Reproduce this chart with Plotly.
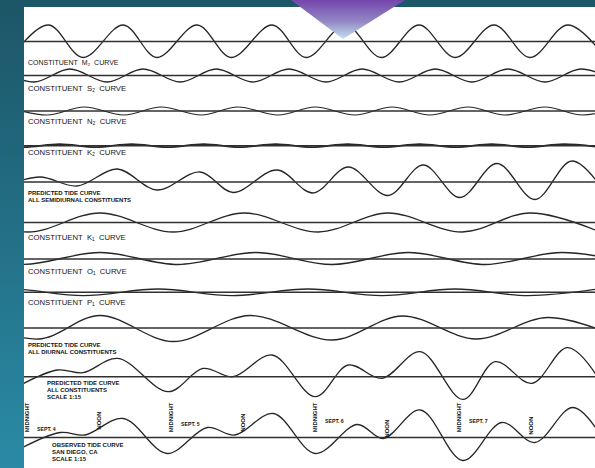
import base64
import plotly.graph_objects as go

# ---------------------------------------------------------------
# Tide curves, San Diego, Sept. 4-7.
# Time is in hours after midnight of Sept. 4; heights are in feet
# above mean level.  Each curve is given by its turning points.
# ---------------------------------------------------------------

M2_T = [-2.6, 3.6, 9.4, 16.1, 21.7, 28.4, 34.1, 40.9, 46.6, 53.1, 59.1, 65.4, 71.4, 77.9, 83.9, 90.2, 96.4]
M2_H = [-1.6, 1.65, -1.6, 1.65, -1.6, 1.65, -1.6, 1.65, -1.6, 1.65, -1.6, 1.65, -1.6, 1.65, -1.6, 1.65, -1.6]

S2_T = [-5.0, 1.2, 7.2, 13.4, 19.4, 25.6, 31.6, 37.7, 43.7, 49.9, 55.9, 62.1, 68.1, 74.2, 80.2, 86.4, 92.4, 98.6]
S2_H = [0.65, -0.65, 0.65, -0.65, 0.65, -0.65, 0.65, -0.65, 0.65, -0.65, 0.65, -0.65, 0.65, -0.65, 0.65, -0.65, 0.65, -0.65]

N2_T = [-3.3, 3.4, 9.6, 16.2, 22.4, 29.1, 35.2, 41.9, 48.1, 54.7, 60.9, 67.2, 73.6, 79.7, 86.4, 92.6, 99.2]
N2_H = [0.4, -0.4, 0.4, -0.4, 0.4, -0.4, 0.4, -0.4, 0.4, -0.4, 0.4, -0.4, 0.4, -0.4, 0.4, -0.4, 0.4]

K2_T = [-6.5, -0.5, 5.5, 11.5, 17.5, 23.5, 29.5, 35.5, 41.5, 47.5, 53.5, 59.5, 65.5, 71.5, 77.5, 83.5, 89.5, 95.5]
K2_H = [0.15, -0.15, 0.15, -0.15, 0.15, -0.15, 0.15, -0.15, 0.15, -0.15, 0.15, -0.15, 0.15, -0.15, 0.15, -0.15, 0.15, -0.15]

SEMI_T = [-3.6, 2.2, 8.4, 15.1, 21.7, 28.9, 34.4, 41.7, 47.7, 53.6, 60.2, 66.1, 72.2, 78.4, 84.7, 90.9, 97.2]
SEMI_H = [-0.4, 0.5, -0.4, 1.3, -0.8, 1.0, -1.05, 1.2, -1.1, 1.5, -1.35, 1.7, -1.55, 1.85, -1.75, 2.1, -1.8]

K1_T = [-11.8, 0.2, 12.2, 24.4, 36.2, 48.6, 60.2, 72.6, 83.9, 95.6]
K1_H = [0.95, -0.95, 0.95, -0.95, 0.95, -0.95, 0.95, -0.95, 0.95, -0.95]

O1_T = [-13.8, -0.8, 12.2, 25.2, 38.2, 50.9, 63.6, 76.4, 89.2, 101.9]
O1_H = [0.65, -0.55, 0.65, -0.55, 0.65, -0.55, 0.65, -0.55, 0.65, -0.55]

P1_T = [-15.0, -2.8, 9.4, 21.9, 34.2, 46.9, 59.2, 71.4, 83.6, 95.2]
P1_H = [-0.33, 0.33, -0.33, 0.33, -0.33, 0.33, -0.33, 0.33, -0.33, 0.33]

DIUR_T = [-11.1, 1.9, 12.2, 24.4, 37.2, 50.9, 62.6, 74.9, 86.9, 98.9]
DIUR_H = [1.2, -1.1, 1.25, -1.35, 1.25, -1.2, 1.2, -1.1, 1.05, -1.0]

ALL_T = [-2.8, 5.1, 9.4, 15.2, 23.6, 29.4, 34.4, 40.9, 48.1, 53.6, 59.2, 65.6, 72.7, 78.1, 84.2, 90.2, 97.2]
ALL_H = [-1.4, 0.67, 0.4, 1.83, -1.5, 0.83, 0.0, 2.17, -2.0, 1.17, -0.17, 2.5, -2.27, 1.5, -0.67, 2.9, -2.0]

OBS_T = [-2.0, 5.6, 9.7, 16.1, 23.4, 30.1, 34.7, 41.1, 48.1, 55.1, 59.4, 65.6, 72.7, 79.2, 84.7, 91.1, 97.6]
OBS_H = [-1.4, 0.5, 0.25, 1.9, -1.6, 1.0, 0.25, 2.4, -1.6, 1.3, -0.1, 2.75, -2.3, 1.5, -0.5, 3.0, -1.8]

# constituent names with their subscripts
CONSTITUENTS_SEMI = ["M₂", "S₂", "N₂", "K₂"]
CONSTITUENTS_DIUR = ["K₁", "O₁", "P₁"]

# time marks along the observed curve
DAYS = ["SEPT. 4", "SEPT. 5", "SEPT. 6", "SEPT. 7"]
MIDNIGHT_HOURS = [0, 24, 48, 72]
NOON_HOURS = [12, 36, 60, 84]

# ---------------------------------------------------------------
# Page layout (vertical axis runs top-down in drawing units)
# ---------------------------------------------------------------
W, H = 595, 468
PANEL_LEFT, PANEL_TOP = 24, 7
X_RANGE = [-0.45, 94.72]
UNITS_PER_FT = 10.0

ROWS = [
    # curve times, heights, mean-level position, line width
    (M2_T, M2_H, 41.5, 1.3),
    (S2_T, S2_H, 75.5, 1.3),
    (N2_T, N2_H, 111.0, 1.2),
    (K2_T, K2_H, 145.7, 1.8),
    (SEMI_T, SEMI_H, 182.0, 1.3),
    (K1_T, K1_H, 222.5, 1.3),
    (O1_T, O1_H, 259.0, 1.3),
    (P1_T, P1_H, 292.3, 1.3),
    (DIUR_T, DIUR_H, 328.0, 1.3),
    (ALL_T, ALL_H, 376.7, 1.3),
    (OBS_T, OBS_H, 437.5, 1.3),
]

INK = "#262626"
fig = go.Figure()

for times, heights, level, lw in ROWS:
    # mean-level line
    fig.add_shape(type="line", xref="paper", yref="y", x0=0, x1=1, y0=level, y1=level,
                  line=dict(color="#303030", width=1.5), layer="above")
    fig.add_trace(go.Scatter(
        x=times, y=[level - h * UNITS_PER_FT for h in heights],
        mode="lines", line=dict(color=INK, width=lw, shape="spline", smoothing=1.0),
        hoverinfo="skip", showlegend=False))

# ---- labels ----
FONT = "Liberation Sans, Arial, sans-serif"
annotations = []


def label(x, y, text, size, bold=False, angle=0, anchor="left"):
    annotations.append(dict(
        x=x, y=y, xref="x", yref="y", text=f"<b>{text}</b>" if bold else text,
        showarrow=False, xanchor=anchor, yanchor="middle", textangle=angle,
        font=dict(family=FONT, size=size, color="#141414")))


NB = "\u00a0"
semi_rows = [(62.0, 7), (88.8, 7.7), (121.0, 7.7), (152.5, 7.7)]
for name, (y, size) in zip(CONSTITUENTS_SEMI, semi_rows):
    label(-0.2, y, f"CONSTITUENT{NB}{NB}{name}{NB}{NB}CURVE", size)
for name, y in zip(CONSTITUENTS_DIUR, [237.8, 271.0, 302.0]):
    label(-0.2, y, f"CONSTITUENT{NB}{NB}{name}{NB}{NB}CURVE", 7.7)

label(-0.1, 193.2, "PREDICTED TIDE CURVE", 6, bold=True)
label(-0.1, 199.8, "ALL SEMIDIURNAL CONSTITUENTS", 6, bold=True)
label(-0.1, 344.7, "PREDICTED TIDE CURVE", 6, bold=True)
label(-0.1, 352.0, "ALL DIURNAL CONSTITUENTS", 6, bold=True)
label(3.0, 383.0, "PREDICTED TIDE CURVE", 6, bold=True)
label(3.0, 390.0, "ALL CONSTITUENTS", 6, bold=True)
label(3.0, 397.0, "SCALE 1:15", 6, bold=True)
label(3.9, 445.0, "OBSERVED TIDE CURVE", 6, bold=True)
label(3.9, 451.7, "SAN DIEGO, CA", 6, bold=True)
label(3.9, 458.5, "SCALE 1:15", 6, bold=True)

day_y = [429.0, 424.0, 421.0, 421.0]
noon_y = [421.0, 423.0, 429.0, 426.0]
for day, mid, noon, dy, ny in zip(DAYS, MIDNIGHT_HOURS, NOON_HOURS, day_y, noon_y):
    label(mid, 417.5, "MIDNIGHT", 6, bold=True, angle=-90, anchor="center")
    label(noon, ny, "NOON", 6, bold=True, angle=-90, anchor="center")
    label(mid + 1.4, dy, day, 5.2, bold=True)

# ---- backdrop: teal page, white sheet and the purple pointer ----
bg_svg = (
    f'<svg xmlns="http://www.w3.org/2000/svg" width="{W}" height="{H}" viewBox="0 0 {W} {H}">'
    '<defs><linearGradient id="g" x1="0" y1="0" x2="0" y2="1">'
    '<stop offset="0" stop-color="#1c5667"/><stop offset="1" stop-color="#2a8aa6"/>'
    '</linearGradient></defs>'
    f'<rect width="{W}" height="{H}" fill="url(#g)"/>'
    f'<rect x="{PANEL_LEFT}" y="{PANEL_TOP}" width="{W - PANEL_LEFT}" height="{H - PANEL_TOP}" fill="#ffffff"/>'
    '</svg>'
)
tri_svg = (
    f'<svg xmlns="http://www.w3.org/2000/svg" width="{W}" height="{H}" viewBox="0 0 {W} {H}">'
    '<defs><linearGradient id="p" gradientUnits="userSpaceOnUse" x1="0" y1="0" x2="0" y2="39">'
    '<stop offset="0" stop-color="#7446ad"/><stop offset="0.55" stop-color="#9487c4"/>'
    '<stop offset="1" stop-color="#bfe2ee"/></linearGradient></defs>'
    '<polygon points="291,0 405,0 343,39" fill="url(#p)"/></svg>'
)


def data_uri(svg):
    return "data:image/svg+xml;base64," + base64.b64encode(svg.encode()).decode()


pw, ph = W - PANEL_LEFT, H - PANEL_TOP
img_common = dict(xref="paper", yref="paper", x=-PANEL_LEFT / pw, y=1 + PANEL_TOP / ph,
                  sizex=W / pw, sizey=H / ph, xanchor="left", yanchor="top", sizing="stretch")
fig.update_layout(images=[
    dict(source=data_uri(bg_svg), layer="below", **img_common),
    dict(source=data_uri(tri_svg), layer="above", **img_common),
])

fig.update_layout(
    width=W, height=H,
    margin=dict(l=PANEL_LEFT, r=0, t=PANEL_TOP, b=0, pad=0),
    paper_bgcolor="#23718a", plot_bgcolor="#ffffff",
    xaxis=dict(range=X_RANGE, visible=False, fixedrange=True),
    yaxis=dict(range=[H, PANEL_TOP], visible=False, fixedrange=True),
    annotations=annotations,
    showlegend=False,
)

fig.write_html("out.html")
